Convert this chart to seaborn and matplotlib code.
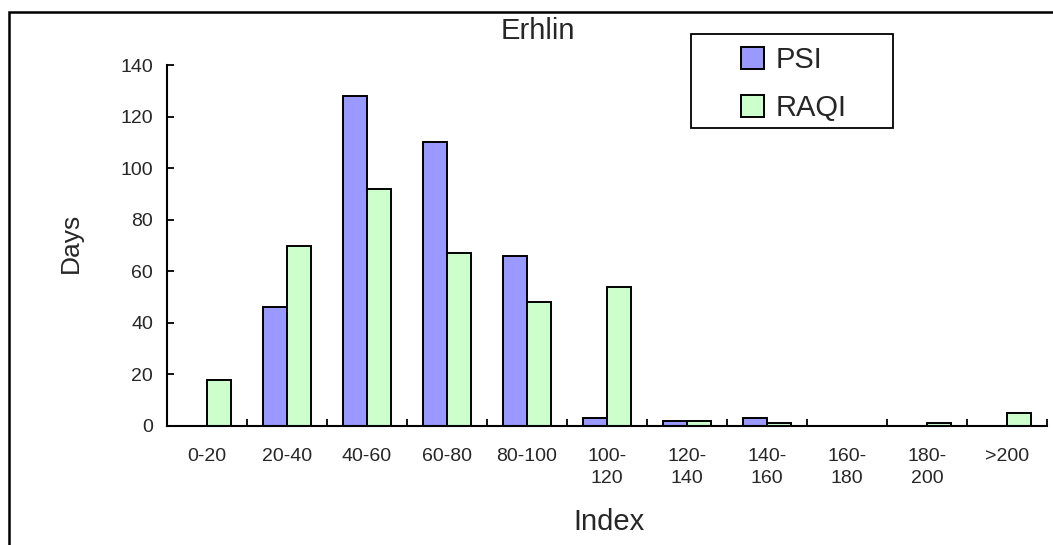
import matplotlib
matplotlib.use("Agg")
import matplotlib.pyplot as plt
from matplotlib.patches import Rectangle
import seaborn as sns
import pandas as pd

# Days per index band at the Erhlin station
categories = ["0-20", "20-40", "40-60", "60-80", "80-100", "100-120",
              "120-140", "140-160", "160-180", "180-200", ">200"]
tick_labels = ["0-20", "20-40", "40-60", "60-80", "80-100", "100-\n120",
               "120-\n140", "140-\n160", "160-\n180", "180-\n200", ">200"]
psi_days = [0, 46, 128, 110, 66, 3, 2, 3, 0, 0, 0]
raqi_days = [18, 70, 92, 67, 48, 54, 2, 1, 0, 1, 5]
series_names = ["PSI", "RAQI"]
y_ticks = [0, 20, 40, 60, 80, 100, 120, 140]

df = pd.DataFrame({
    "Index": categories * 2,
    "Days": psi_days + raqi_days,
    "Series": [series_names[0]] * len(categories) + [series_names[1]] * len(categories),
})

sns.set_theme(style="white")
plt.rcParams["font.family"] = ["Liberation Sans", "DejaVu Sans"]

W, H = 1053, 545
fig = plt.figure(figsize=(W / 100, H / 100), dpi=100)
fig.patch.set_facecolor("white")
ax = fig.add_axes([167 / W, 1 - 426 / H, (1047 - 167) / W, (426 - 65) / H])

palette = {"PSI": "#9999FF", "RAQI": "#CCFFCC"}
sns.barplot(data=df, x="Index", y="Days", hue="Series", order=categories,
            hue_order=series_names, palette=palette, width=0.61,
            edgecolor="black", linewidth=1.4, saturation=1, ax=ax, legend=False)

ax.set_xlim(-0.5, len(categories) - 0.5)
ax.set_ylim(0, 140)
ax.set_yticks(y_ticks)
ax.set_xticks(range(len(categories)))
ax.set_xticklabels(tick_labels)
ax.set_xticks([i + 0.5 for i in range(-1, len(categories))], minor=True)
ax.set_xlabel("")
ax.set_ylabel("")

for s in ["top", "right"]:
    ax.spines[s].set_visible(False)
for s in ["left", "bottom"]:
    ax.spines[s].set_color("black")
    ax.spines[s].set_linewidth(1.5)

ax.tick_params(axis="y", direction="in", length=5, width=1.3, color="black",
               labelsize=14, pad=10, left=True)
ax.tick_params(axis="x", which="major", length=0, labelsize=14, pad=15.5)
ax.tick_params(axis="x", which="minor", direction="in", length=5, width=1.3,
               color="black", bottom=True)
for lab in ax.get_xticklabels():
    lab.set_linespacing(1.4)
    lab.set_verticalalignment("top")

# Titles and axis names
fig.text(538 / W, 1 - 31 / H, "Erhlin", fontsize=21, ha="center", va="center")
fig.text(71 / W, 1 - 243 / H, "Days", fontsize=19, rotation=90, ha="center", va="center")
fig.text(609 / W, 1 - 522 / H, "Index", fontsize=21, ha="center", va="center")

# Legend with its own frame
handles = [Rectangle((0, 0), 1, 1, facecolor=palette[n], edgecolor="black", linewidth=1.4)
           for n in series_names]
fig.legend(handles, series_names, loc="upper left",
           bbox_to_anchor=(741 / W, 1 - 46 / H), bbox_transform=fig.transFigure,
           frameon=False, fontsize=21, handlelength=0.8, handleheight=0.8,
           handletextpad=0.4, labelspacing=0.7, borderpad=0, borderaxespad=0)
fig.add_artist(Rectangle((691 / W, 1 - 128 / H), (893 - 691) / W, (128 - 34) / H,
                         transform=fig.transFigure, fill=False, edgecolor="black",
                         linewidth=1.3))

# Outer chart border
fig.add_artist(Rectangle((9 / W, -0.1), 1.2, 1 - 12 / H + 0.1,
                         transform=fig.transFigure, fill=False, edgecolor="black",
                         linewidth=1.8))

fig.savefig("out.png", dpi=100, facecolor="white")
